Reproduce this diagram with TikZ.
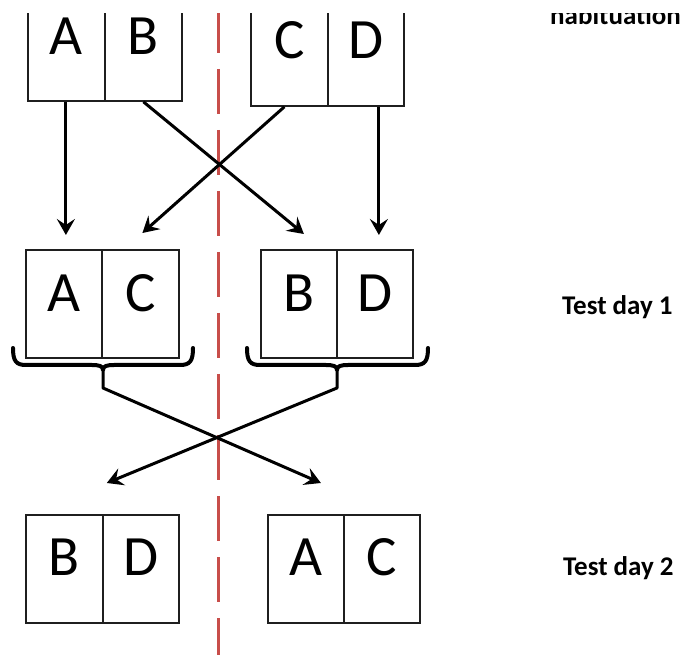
\documentclass[tikz,border=0pt]{standalone}
\usepackage{fontspec}
\setmainfont{Carlito}
\usetikzlibrary{arrows.meta,calc}
\definecolor{divred}{RGB}{200,78,74}
\begin{document}
\begin{tikzpicture}[x=1pt,y=-1pt,
  cell/.style={draw=black!88, line width=1.8pt, minimum width=#1, minimum height=108pt, inner sep=0pt, anchor=north west},
  cell/.default=77pt,
  tcell/.style={cell=#1, minimum height=110pt},
  tcell/.default=77pt,
  letter/.style={font=\fontsize{57}{60}\selectfont, inner sep=0pt, anchor=base},
  lab/.style={font=\bfseries\fontsize{27}{30}\selectfont, inner sep=0pt, anchor=base west},
  arr/.style={line width=3pt, -{Stealth[length=16pt,width=18pt,inset=6pt]}},
  brc/.style={line width=4pt, line cap=round, line join=round},
  divider/.style={draw=divred, line width=3pt, dash pattern=on 45pt off 16pt}]
\useasboundingbox (0,0) rectangle (689,655);
\begin{scope}
\clip (0,14) rectangle (689,655);
% dashed divider
\draw[divider] (218,8) -- (218,670);
% top boxes
\node[tcell] (ta) at (27,-10) {};
\node[tcell] (tb) at (104,-10) {};
\node[tcell] (tc) at (250,-5) {};
\node[tcell=76pt] (td) at (327,-5) {};
\path (ta.north) ++(0,65) node[letter] (lta) {A};
\path (tb.north) ++(0,65) node[letter] (ltb) {B};
\path (tc.north) ++(0,64) node[letter] (ltc) {C};
\path (td.north) ++(0,64) node[letter] (ltd) {D};
% middle boxes
\node[cell=76pt] (ma) at (25,249) {};
\node[cell] (mc) at (101,249) {};
\node[cell=76pt] (mb) at (260,249) {};
\node[cell=76pt] (md) at (336,249) {};
\path (ma.north) ++(0,63) node[letter] (lma) {A};
\path (mc.north) ++(0,63) node[letter] (lmc) {C};
\path (mb.north) ++(0,63) node[letter] (lmb) {B};
\path (md.north) ++(0,63) node[letter] (lmd) {D};
% bottom boxes
\node[cell] (bb) at (25,514) {};
\node[cell=76pt] (bd) at (102,514) {};
\node[cell=76pt] (ba) at (267,514) {};
\node[cell=76pt] (bc) at (343,514) {};
\path (bb.north) ++(0,61) node[letter] (lbb) {B};
\path (bd.north) ++(0,61) node[letter] (lbd) {D};
\path (ba.north) ++(0,61) node[letter] (lba) {A};
\path (bc.north) ++(0,61) node[letter] (lbc) {C};
% top arrows
\draw[arr] ($(ta.south)+(-0.5,0)$) -- ($(ma.north)+(2,-14)$);
\draw[arr] ($(tb.south)+(0,0)$) -- ($(mb.north)+(5,-15)$);
\draw[arr] ($(tc.south)+(-5,0)$) -- ($(mc.north)+(2,-16)$);
\draw[arr] ($(td.south)+(13,0)$) -- ($(md.north)+(4,-14)$);
% braces
\coordinate (lbt) at (103,370);
\coordinate (rbt) at (337,370);
\draw[brc] (13,348) .. controls (13,361) and (16,365) .. (26,365) -- (92,365)
  .. controls (99,365) and (103,366) .. (lbt)
  .. controls (103,366) and (107,365) .. (114,365) -- (180,365)
  .. controls (190,365) and (193,361) .. (193,348);
\draw[brc] (247,348) .. controls (247,361) and (250,365) .. (260,365) -- (326,365)
  .. controls (333,365) and (337,366) .. (rbt)
  .. controls (337,366) and (341,365) .. (348,365) -- (415,365)
  .. controls (425,365) and (428,361) .. (428,348);
% cross arrows
\draw[arr, line join=round] (lbt) -- ++(0,18) -- ($(ba.north)+(15,-31)$);
\draw[arr, line join=round] (rbt) -- ++(0,18) -- ($(bb.north east)+(3,-31)$);
% labels
\node[lab] (hab) at (550,24.5) {habituation};
\node[lab] (td1) at (562,315) {Test day 1};
\node[lab] (td2) at (563,575) {Test day 2};
\end{scope}
\end{tikzpicture}
\end{document}
